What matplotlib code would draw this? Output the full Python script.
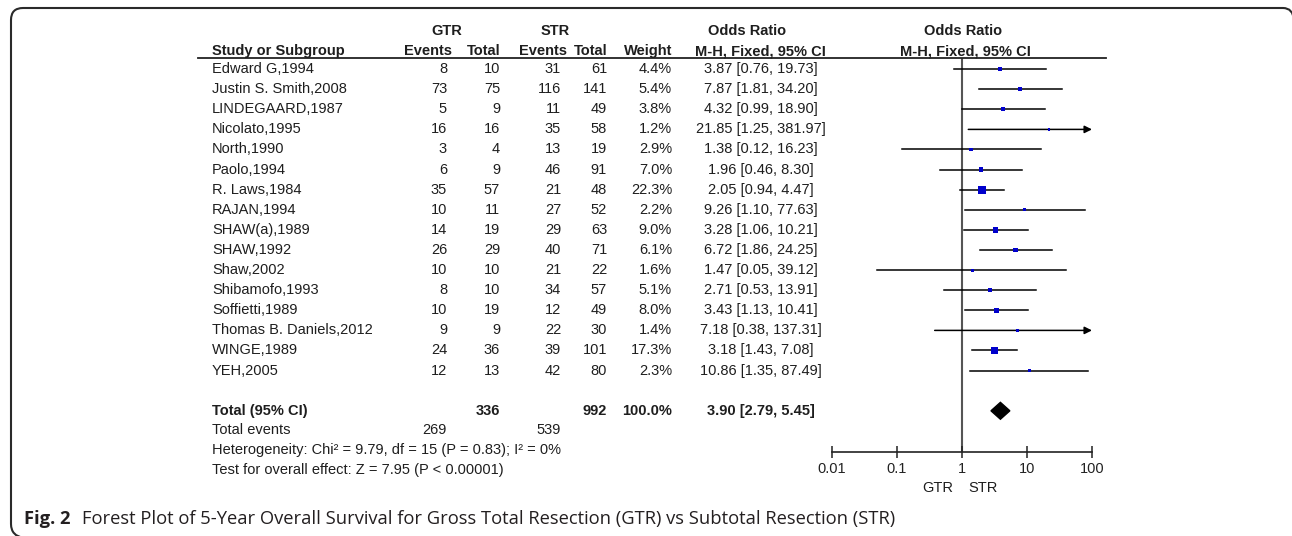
import matplotlib
matplotlib.use('Agg')
import matplotlib.pyplot as plt
from matplotlib.transforms import blended_transform_factory, Affine2D
from matplotlib.patches import PathPatch, Polygon
from matplotlib.path import Path
from matplotlib.lines import Line2D

plt.rcParams['font.family'] = ['Liberation Sans', 'DejaVu Sans']

# data
studies = ['Edward G,1994', 'Justin S. Smith,2008', 'LINDEGAARD,1987', 'Nicolato,1995',
           'North,1990', 'Paolo,1994', 'R. Laws,1984', 'RAJAN,1994', 'SHAW(a),1989',
           'SHAW,1992', 'Shaw,2002', 'Shibamofo,1993', 'Soffietti,1989',
           'Thomas B. Daniels,2012', 'WINGE,1989', 'YEH,2005']
gtr_events = [8, 73, 5, 16, 3, 6, 35, 10, 14, 26, 10, 8, 10, 9, 24, 12]
gtr_total = [10, 75, 9, 16, 4, 9, 57, 11, 19, 29, 10, 10, 19, 9, 36, 13]
str_events = [31, 116, 11, 35, 13, 46, 21, 27, 29, 40, 21, 34, 12, 22, 39, 42]
str_total = [61, 141, 49, 58, 19, 91, 48, 52, 63, 71, 22, 57, 49, 30, 101, 80]
weight = [4.4, 5.4, 3.8, 1.2, 2.9, 7.0, 22.3, 2.2, 9.0, 6.1, 1.6, 5.1, 8.0, 1.4, 17.3, 2.3]
odds = [3.87, 7.87, 4.32, 21.85, 1.38, 1.96, 2.05, 9.26, 3.28, 6.72, 1.47, 2.71, 3.43, 7.18, 3.18, 10.86]
ci_low = [0.76, 1.81, 0.99, 1.25, 0.12, 0.46, 0.94, 1.10, 1.06, 1.86, 0.05, 0.53, 1.13, 0.38, 1.43, 1.35]
ci_high = [19.73, 34.20, 18.90, 381.97, 16.23, 8.30, 4.47, 77.63, 10.21, 24.25, 39.12, 13.91, 10.41, 137.31, 7.08, 87.49]

total_or, total_low, total_high = 3.90, 2.79, 5.45
total_n = (336, 992)
total_ev = (269, 539)
heterogeneity = 'Heterogeneity: Chi² = 9.79, df = 15 (P = 0.83); I² = 0%'
overall = 'Test for overall effect: Z = 7.95 (P < 0.00001)'
xticks = [0.01, 0.1, 1, 10, 100]
xticklabels = ['0.01', '0.1', '1', '10', '100']

W, H = 1292, 536
fig = plt.figure(figsize=(W / 100, H / 100), dpi=100)
pix = Affine2D().scale(1 / W, 1 / H) + fig.transFigure

# the forest panel: rows are 20.1 px apart, first row at y=69 px
row_h = 20.1
top_row, bottom_row = -0.55, 19.05
ax = fig.add_axes([832 / W, (H - 452) / H, 260 / W, (bottom_row - top_row) * row_h / H])
ax.set_xscale('log')
ax.set_xlim(0.01, 100)
ax.set_ylim(bottom_row, top_row)
for s in ['left', 'right', 'top']:
    ax.spines[s].set_visible(False)
ax.spines['bottom'].set_linewidth(1.2)
ax.spines['bottom'].set_color('#222222')
ax.set_yticks([])
ax.set_xticks(xticks)
ax.set_xticklabels(xticklabels)
ax.minorticks_off()
ax.tick_params(axis='x', direction='inout', length=9, width=1.1, color='#222222',
               labelsize=10.5, labelcolor='#222222', pad=3)
ax.axvline(1, color='#555555', lw=1.5, zorder=1)

rows = list(range(len(studies)))
for i in rows:
    if ci_high[i] > 100:
        # interval runs off the scale -> arrow at the right end
        ax.annotate('', xy=(100, i), xytext=(ci_low[i], i),
                    arrowprops=dict(arrowstyle='-|>', color='black', lw=1.1,
                                    mutation_scale=11, shrinkA=0, shrinkB=0),
                    annotation_clip=False)
    else:
        ax.plot([ci_low[i], ci_high[i]], [i, i], color='black', lw=1.1, zorder=2)
# square side grows with the square root of the weight
sizes = [(0.72 * (1.0 + 1.45 * w ** 0.5)) ** 2 for w in weight]
ax.scatter(odds, rows, marker='s', s=sizes, color='#0000cc', zorder=3, linewidths=0)

total_row = 17
dh = 0.42
ax.add_patch(Polygon([(total_low, total_row), (total_or, total_row - dh),
                      (total_high, total_row), (total_or, total_row + dh)],
                     closed=True, color='black', zorder=3))

# text table, x in pixels, y in rows
tr = blended_transform_factory(fig.transFigure, ax.transData)
txt = dict(transform=tr, fontsize=10.5, color='#1e1e1e', va='center', clip_on=False)


def put(x, y, s, ha='left', bold=False):
    fig.text(x / W, y, s, ha=ha, fontweight='bold' if bold else 'normal', **txt)


put(447, -1.88, 'GTR', 'center', True)
put(555, -1.88, 'STR', 'center', True)
put(747, -1.88, 'Odds Ratio', 'center', True)
put(963, -1.88, 'Odds Ratio', 'center', True)
put(212, -0.88, 'Study or Subgroup', bold=True)
put(452, -0.88, 'Events', 'right', True)
put(500, -0.88, 'Total', 'right', True)
put(567, -0.88, 'Events', 'right', True)
put(607, -0.88, 'Total', 'right', True)
put(672, -0.88, 'Weight', 'right', True)
put(760, -0.88, 'M-H, Fixed, 95% CI', 'center', True)
put(965, -0.88, 'M-H, Fixed, 95% CI', 'center', True)

fig.add_artist(Line2D([198 / W, 1106 / W], [top_row, top_row], transform=tr,
                      color='#222222', lw=1.3))

for i in rows:
    put(212, i, studies[i])
    put(447, i, str(gtr_events[i]), 'right')
    put(500, i, str(gtr_total[i]), 'right')
    put(561, i, str(str_events[i]), 'right')
    put(607, i, str(str_total[i]), 'right')
    put(672, i, f'{weight[i]:.1f}%', 'right')
    put(761, i, f'{odds[i]:.2f} [{ci_low[i]:.2f}, {ci_high[i]:.2f}]', 'center')

put(212, total_row, 'Total (95% CI)', bold=True)
put(500, total_row, str(total_n[0]), 'right', True)
put(607, total_row, str(total_n[1]), 'right', True)
put(672, total_row, f'{sum(weight):.1f}%', 'right', True)
put(761, total_row, f'{total_or:.2f} [{total_low:.2f}, {total_high:.2f}]', 'center', True)
put(212, 17.95, 'Total events')
put(447, 17.95, str(total_ev[0]), 'right')
put(561, 17.95, str(total_ev[1]), 'right')
put(212, 18.95, heterogeneity)
put(212, 19.95, overall)
put(938, 20.85, 'GTR', 'center')
put(983, 20.85, 'STR', 'center')

# caption
cap = dict(transform=pix, fontsize=13.2, color='#231f20', family=['Open Sans', 'DejaVu Sans'],
           va='baseline')
fig.text(24, H - 524, 'Fig. 2', fontweight='bold', **cap)
fig.text(82, H - 524,
         'Forest Plot of 5-Year Overall Survival for Gross Total Resection (GTR) vs Subtotal Resection (STR)',
         **cap)

# page frame: left side, top side and the start of the top-right corner
frame = [(24, H - 538), (11, H - 536), (11, H - 524), (11, H - 20), (11, H - 8), (23, H - 8),
         (1283, H - 8), (1293, H - 8), (1294, H - 20)]
codes = [Path.MOVETO, Path.CURVE3, Path.CURVE3, Path.LINETO, Path.CURVE3, Path.CURVE3,
         Path.LINETO, Path.CURVE3, Path.CURVE3]
fig.add_artist(PathPatch(Path(frame, codes), transform=pix, fill=False,
                         edgecolor='#2a2a2a', lw=1.5))

fig.savefig('out.png', dpi=100, facecolor='white')
